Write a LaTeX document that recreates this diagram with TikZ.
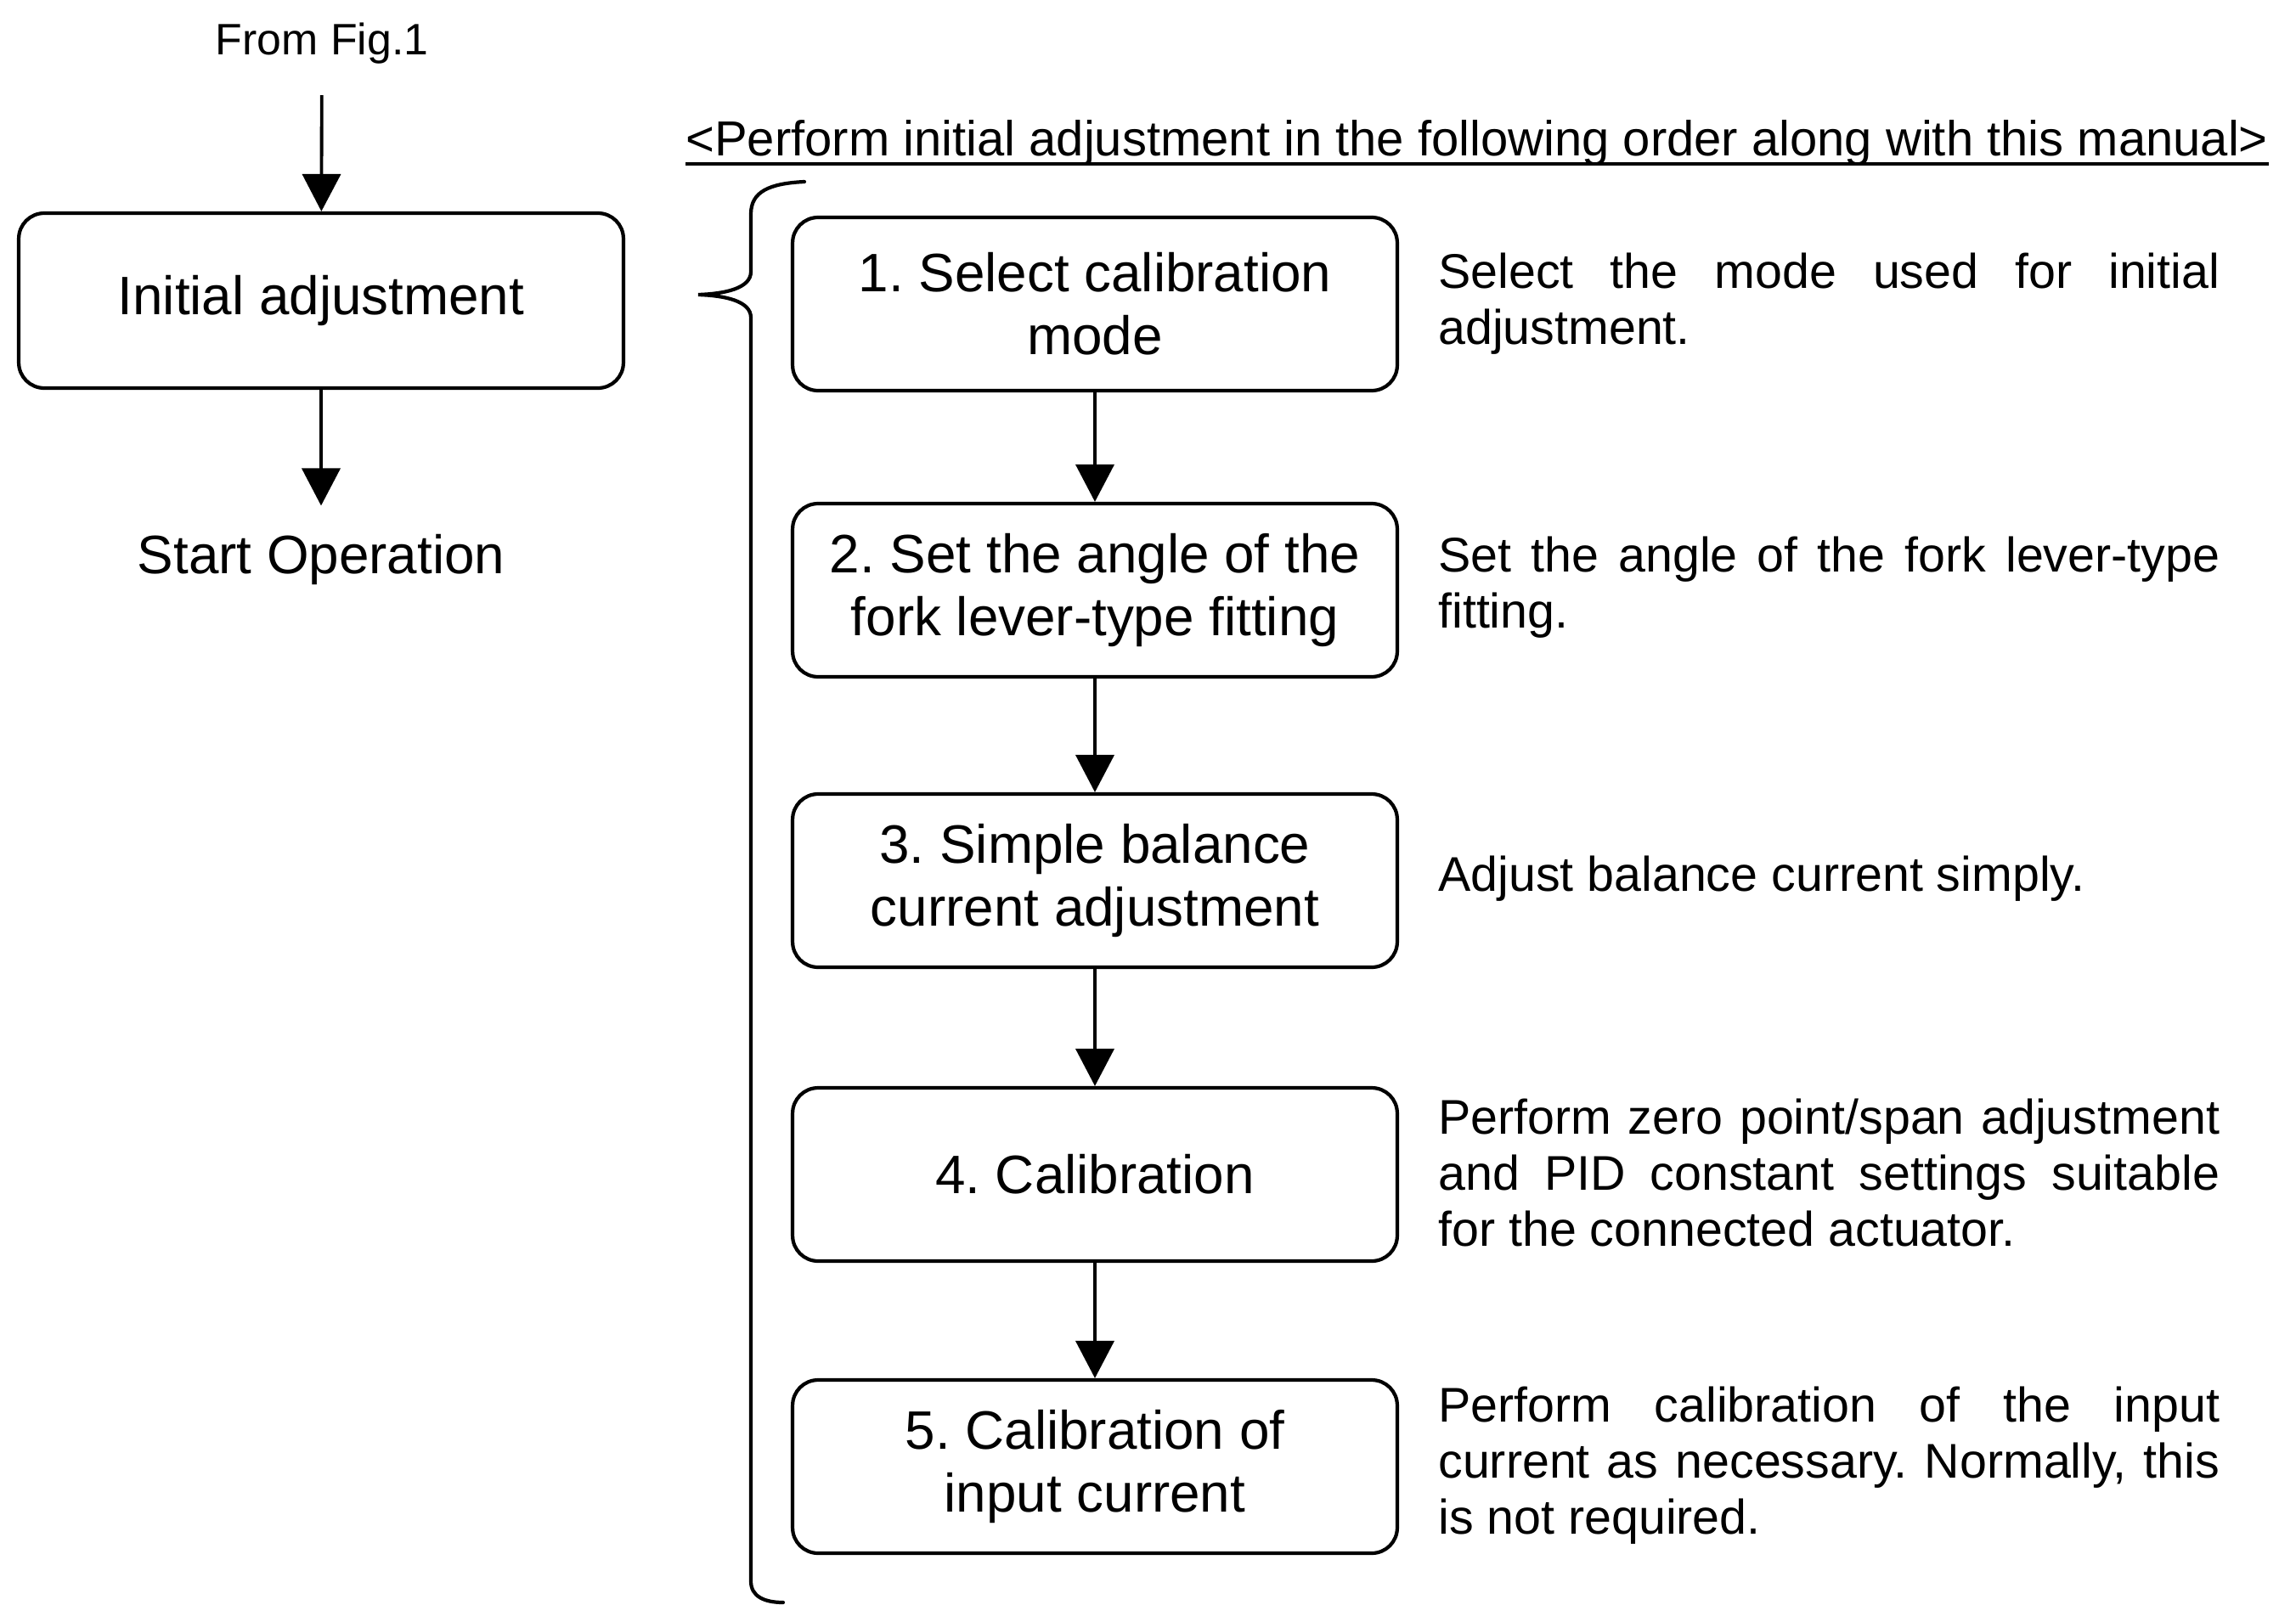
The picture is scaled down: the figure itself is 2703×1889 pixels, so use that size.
\documentclass[tikz,border=0pt]{standalone}
\usepackage{fontspec}
\setmainfont{Liberation Sans}
\usetikzlibrary{arrows.meta}
\frenchspacing
\newcommand\boxfnt{\fontsize{36.3pt}{42pt}\selectfont\frenchspacing}
\newcommand\descfnt{\fontsize{32.65pt}{37.6pt}\selectfont\frenchspacing\tolerance=10000 \hyphenpenalty=10000 \exhyphenpenalty=10000 }
\newcommand\smallfnt{\fontsize{29.5pt}{34pt}\selectfont\frenchspacing}
\begin{document}
\begin{tikzpicture}[x=0.02cm, y=-0.02cm,
  box/.style={draw, line width=2.4pt, rounded corners=0.6cm, minimum width=14.24cm, minimum height=4.08cm, align=center, font=\boxfnt, inner sep=0pt},
  arr/.style={line width=2.2pt, -{Triangle[length=0.88cm, width=0.9cm]}},
  desc/.style={anchor=west, text width=18.4cm, align=justify, font=\descfnt, inner sep=0pt},
  plain/.style={inner sep=0pt}
]
\useasboundingbox[fill=white] (0,0) rectangle (2703,1889);

% left column
\node[plain, anchor=base, font=\smallfnt] (from) at (379,65) {From Fig.1};
\node[box, minimum height=4.12cm] (A) at (378,354) {Initial adjustment};
\node[plain, anchor=base, font=\boxfnt] (so) at (378,675) {Start Operation};
\draw[arr, shorten <=0.72cm] (from) -- (A);
\draw[arr, shorten >=0.66cm] (A) -- (so);

% header
\node[plain, anchor=base west, font=\fontsize{33pt}{38pt}\selectfont] (hdr) at (807,184) {<Perform initial adjustment in the following order along with this manual>};
\draw[line width=2.4pt] ([yshift=-0.18cm]hdr.base west) -- ([yshift=-0.18cm]hdr.base east);

% brace
\draw[line width=2.4pt, line cap=round]
  (947,214) .. controls (905,216) and (884,226) .. (884,252)
  -- (884,320) .. controls (884,340) and (852,346) .. (822,347)
  .. controls (852,348) and (884,354) .. (884,374)
  -- (884,1862) .. controls (884,1880) and (900,1887) .. (922,1887);

% right column
\node[box] (b1) at (1289,358) {1. Select calibration\\mode};
\node[box] (b2) at (1289,695) {2. Set the angle of the\\fork lever-type fitting};
\node[box] (b3) at (1289,1037) {3. Simple balance\\current adjustment};
\node[box] (b4) at (1289,1383) {4. Calibration};
\node[box] (b5) at (1289,1727) {5. Calibration of\\input current};

\draw[arr] (b1) -- (b2);
\draw[arr] (b2) -- (b3);
\draw[arr] (b3) -- (b4);
\draw[arr] (b4) -- (b5);

% descriptions
\node[desc] (d1) at (1693,358) {Select the mode used for initial\linebreak adjustment.};
\node[desc] (d2) at (1693,692) {Set the angle of the fork lever-type\linebreak fitting.};
\node[desc] (d3) at (1693,1035) {Adjust balance current simply.};
\node[desc] (d4) at (1693,1381) {Perform zero point/span adjustment\linebreak and PID constant settings suitable\linebreak for the connected actuator.};
\node[desc] (d5) at (1693,1726) {Perform calibration of the input\linebreak current as necessary. Normally, this\linebreak is not required.};
\end{tikzpicture}
\end{document}
